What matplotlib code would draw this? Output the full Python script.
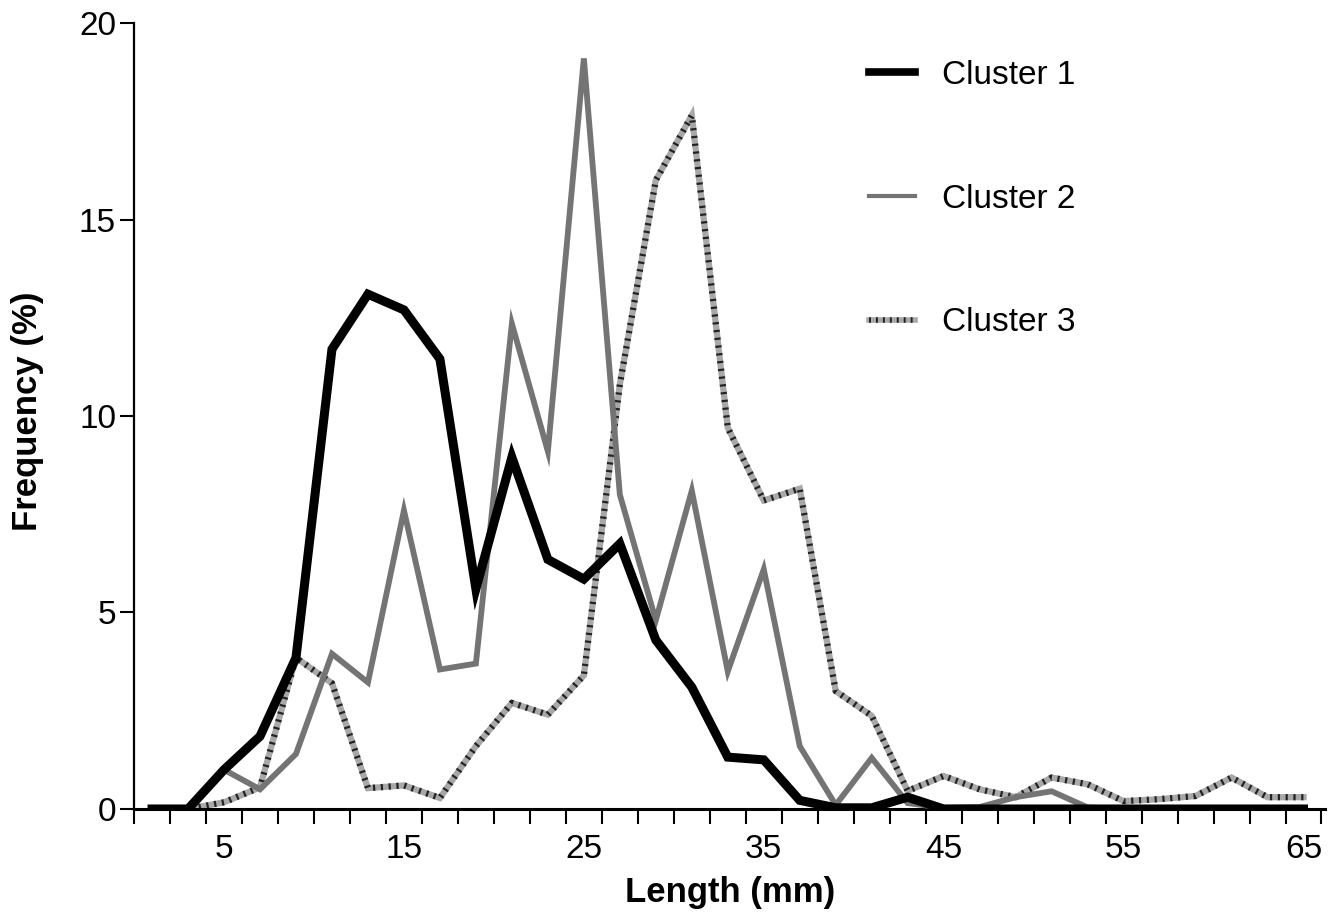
import numpy as np
import matplotlib.pyplot as plt
from matplotlib.lines import Line2D

plt.rcParams['font.family'] = ['Liberation Sans', 'DejaVu Sans']

# lengths (mm), class mid-points
length = np.arange(1, 66, 2)

cluster1 = [0, 0, 1.0, 1.85, 3.85, 11.7, 13.1, 12.7, 11.45, 5.6, 8.95, 6.35, 5.85, 6.75,
            4.3, 3.1, 1.32, 1.25, 0.22, 0.03, 0.03, 0.3, 0.0, 0, 0, 0, 0, 0, 0, 0, 0, 0, 0]
cluster2 = [0, 0, 1.0, 0.5, 1.4, 3.95, 3.22, 7.6, 3.55, 3.7, 12.35, 9.1, 19.1, 8.0,
            4.8, 8.1, 3.5, 6.1, 1.6, 0.1, 1.3, 0.15, 0.03, 0.05, 0.3, 0.45, 0.04, 0, 0, 0, 0, 0, 0]
cluster3 = [0, 0, 0.17, 0.55, 3.85, 3.2, 0.53, 0.6, 0.28, 1.6, 2.7, 2.4, 3.4, 10.8,
            16.0, 17.65, 9.7, 7.85, 8.15, 3.0, 2.37, 0.46, 0.84, 0.5, 0.3, 0.8, 0.63, 0.2,
            0.25, 0.33, 0.8, 0.3, 0.3]

labels = ['Cluster 1', 'Cluster 2', 'Cluster 3']
xtick_labels = [5, 15, 25, 35, 45, 55, 65]

fig = plt.figure(figsize=(13.42, 9.14), dpi=100)
ax = fig.add_axes((0.0999, 0.1149, 0.8875, 0.8599))

# cluster 3 : gray line with dark hatch marks
ax.plot(length, cluster3, color='#a8a8a8', lw=4.5, solid_joinstyle='miter', zorder=2)
ax.plot(length, cluster3, color='#222222', lw=4.5, dashes=(0.35, 0.9), zorder=2.1)
# cluster 2 : mid gray line
ax.plot(length, cluster2, color='#747474', lw=4.2, solid_joinstyle='miter', zorder=3)
# cluster 1 : thick black line
ax.plot(length, cluster1, color='black', lw=6.5, solid_joinstyle='miter', zorder=4)

ax.set_xlim(0, 66.2)
ax.set_ylim(0, 20)

for s in ['top', 'right']:
    ax.spines[s].set_visible(False)
ax.spines['left'].set_linewidth(1.6)
ax.spines['bottom'].set_linewidth(2.2)

ax.set_yticks([0, 5, 10, 15, 20])
ax.tick_params(axis='y', direction='out', length=10, width=1.5, labelsize=24, pad=3)

ax.set_xticks(xtick_labels)
ax.set_xticklabels([str(v) for v in xtick_labels])
ax.set_xticks(np.arange(0, 67, 2), minor=True)
ax.tick_params(axis='x', which='major', length=0, labelsize=24, pad=18)
ax.tick_params(axis='x', which='minor', direction='out', length=11, width=1.5)

fig.text(730 / 1342, 12 / 914, 'Length (mm)', fontsize=25, fontweight='bold',
         ha='center', va='baseline')
fig.text(28 / 1342, 1 - 411 / 914, 'Frequency (%)', fontsize=25, fontweight='bold',
         ha='center', va='center', rotation=90)

h1 = Line2D([], [], color='black', lw=5.5)
h2 = Line2D([], [], color='#747474', lw=3)
h3a = Line2D([], [], color='#a8a8a8', lw=4)
h3b = Line2D([], [], color='#222222', lw=4, dashes=(0.35, 0.9))
ax.legend([h1, h2, (h3a, h3b)], labels, loc='upper left',
          bbox_to_anchor=(0.617, 0.953), frameon=False, fontsize=24,
          handlelength=1.38, handletextpad=0.81, labelspacing=2.78,
          borderaxespad=0, borderpad=0)

fig.savefig('out.png', dpi=100)
